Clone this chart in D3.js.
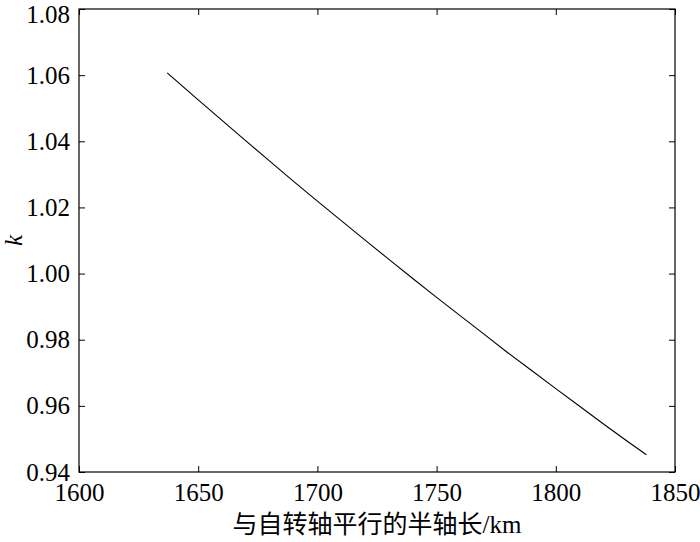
<!DOCTYPE html>
<meta charset="utf-8">
<style>
body { margin: 0; background: #fff; }
.tick text { font-family: "Liberation Serif", "Times New Roman", serif; font-size: 25px; fill: #000; }
.axis path, .axis line { stroke: #000; }
</style>
<svg width="700" height="542"></svg>
<script src="https://d3js.org/d3.v7.min.js"></script>
<script>
// semi-axis length parallel to spin axis (km)
var axisLen = [1637, 1650, 1660, 1670, 1680, 1690, 1700, 1710, 1720, 1730, 1740,
               1750, 1760, 1770, 1780, 1790, 1800, 1810, 1820, 1830, 1838];
// k values
var kValues = [1.0607, 1.0525, 1.0463, 1.0401, 1.0340, 1.0279, 1.0219, 1.0160, 1.0101, 1.0043, 0.9985,
               0.9928, 0.9872, 0.9816, 0.9760, 0.9706, 0.9652, 0.9599, 0.9545, 0.9493, 0.9452];
var xTicks = [1600, 1650, 1700, 1750, 1800, 1850];
var yTicks = [0.94, 0.96, 0.98, 1.00, 1.02, 1.04, 1.06, 1.08];

var svg = d3.select("svg"),
    margin = {top: 9, right: 25, bottom: 70, left: 79},
    width = 700 - margin.left - margin.right,
    height = 542 - margin.top - margin.bottom;

var g = svg.append("g").attr("transform", "translate(" + margin.left + "," + margin.top + ")");

var x = d3.scaleLinear().domain([1600, 1850]).range([0, width]);
var y = d3.scaleLinear().domain([0.94, 1.08]).range([height, 0]);

// bottom axis, ticks pointing inward
g.append("g")
    .attr("class", "axis")
    .attr("transform", "translate(0," + height + ")")
    .call(d3.axisBottom(x).tickValues(xTicks).tickFormat(d3.format("d")).tickSizeInner(-6).tickSizeOuter(0).tickPadding(11))
    .call(function(a) { a.select(".domain").remove(); });

// left axis
g.append("g")
    .attr("class", "axis")
    .call(d3.axisLeft(y).tickValues(yTicks).tickFormat(d3.format(".2f")).tickSizeInner(-6).tickSizeOuter(0).tickPadding(9))
    .call(function(a) { a.select(".domain").remove(); })
    .selectAll(".tick text")
    .filter(function(d) { return d === 1.08; })
    .attr("dy", "0.55em");   // top label nudged down so it stays inside

// top and right ticks, no labels
g.append("g")
    .attr("class", "axis")
    .call(d3.axisTop(x).tickValues(xTicks).tickSizeInner(-6).tickSizeOuter(0).tickFormat(""))
    .call(function(a) { a.select(".domain").remove(); });
g.append("g")
    .attr("class", "axis")
    .attr("transform", "translate(" + width + ",0)")
    .call(d3.axisRight(y).tickValues(yTicks).tickSizeInner(-6).tickSizeOuter(0).tickFormat(""))
    .call(function(a) { a.select(".domain").remove(); });

// frame
g.append("rect")
    .attr("width", width)
    .attr("height", height)
    .attr("fill", "none")
    .attr("stroke", "#000")
    .attr("stroke-width", 1.2);

// curve
var line = d3.line()
    .x(function(d, i) { return x(axisLen[i]); })
    .y(function(d) { return y(d); });

g.append("path")
    .datum(kValues)
    .attr("fill", "none")
    .attr("stroke", "#000")
    .attr("stroke-width", 1.1)
    .attr("d", line);

// axis titles
svg.append("text")
    .attr("x", margin.left + width / 2)
    .attr("y", 533)
    .attr("text-anchor", "middle")
    .style("font-family", "'Liberation Serif', 'Noto Sans CJK SC', serif")
    .style("font-size", "25px")
    .text("与自转轴平行的半轴长/km");

svg.append("text")
    .attr("transform", "translate(22," + (margin.top + height / 2) + ") rotate(-90)")
    .attr("text-anchor", "middle")
    .style("font-family", "'Liberation Serif', serif")
    .style("font-style", "italic")
    .style("font-size", "25px")
    .text("k");
</script>
